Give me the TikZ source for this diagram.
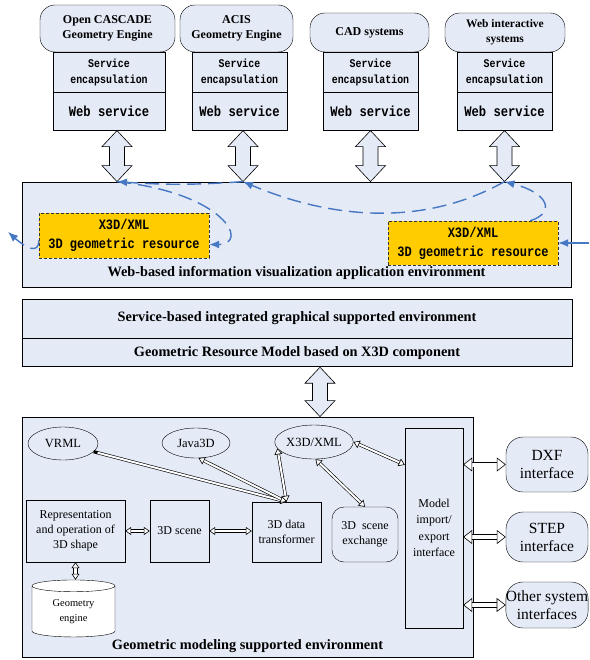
\documentclass[tikz,border=0pt]{standalone}
\usepackage{fontspec}
\setmainfont{Liberation Serif}
\setmonofont[FakeStretch=0.84]{Liberation Mono}
\usetikzlibrary{arrows.meta,calc,positioning,shapes.geometric}

\definecolor{envblue}{RGB}{228,234,246}
\definecolor{resyellow}{RGB}{255,204,0}
\definecolor{flowblue}{RGB}{70,120,196}

% hollow two-headed arrow between two layers (vertical)
\newcommand{\hollowarrow}[2]{%
  \draw[fill=envblue, line width=0.6pt] let \p1=(#1), \p2=(#2) in
    (\x1,\y1) -- (\x1+15pt,\y1-16pt) -- (\x1+7.5pt,\y1-16pt) -- (\x1+7.5pt,\y2+16pt)
    -- (\x1+15pt,\y2+16pt) -- (\x1,\y2) -- (\x1-15pt,\y2+16pt) -- (\x1-7.5pt,\y2+16pt)
    -- (\x1-7.5pt,\y1-16pt) -- (\x1-15pt,\y1-16pt) -- cycle;}

\begin{document}
\begin{tikzpicture}[
    x=1pt, y=-1pt,
    titlebox/.style={draw, fill=envblue, rounded corners=15pt, align=center, inner sep=0pt,
      font=\bfseries\fontsize{12}{15}\selectfont},
    svcbox/.style={draw, fill=envblue, align=center, inner sep=0pt,
      font=\ttfamily\bfseries\fontsize{11.8}{16}\selectfont},
    wsbox/.style={draw, fill=envblue, align=center, inner sep=0pt,
      font=\ttfamily\bfseries\fontsize{14.5}{15}\selectfont},
    envbox/.style={draw, fill=envblue, line width=0.8pt, inner sep=0pt},
    envlabel/.style={font=\bfseries\fontsize{14.3}{16}\selectfont, inner sep=0pt},
    resbox/.style={draw=black!80, densely dashed, fill=resyellow, align=center, inner sep=0pt,
      font=\ttfamily\bfseries\fontsize{14.3}{19}\selectfont},
    unitbox/.style={draw, fill=envblue, align=center, inner sep=0pt,
      font=\fontsize{12}{15}\selectfont},
    oval/.style={ellipse, draw, fill=envblue, inner sep=0pt, font=\fontsize{12.5}{15}\selectfont},
    iface/.style={draw, fill=envblue, rounded corners=17pt, align=center, inner sep=0pt,
      font=\fontsize{15.5}{18}\selectfont},
    link/.style={double, double distance=2pt, line width=0.6pt,
      {Triangle[fill=white, line width=0.6pt, length=6pt, width=8pt]}-{Triangle[fill=white, line width=0.6pt, length=6pt, width=8pt]}},
    bigl/.style={double, double distance=4pt, line width=0.6pt,
      {Triangle[fill=white, line width=0.6pt, length=9pt, width=14pt]}-{Triangle[fill=white, line width=0.6pt, length=9pt, width=14pt]}},
    flow/.style={flowblue, line width=1.4pt, dash pattern=on 14pt off 7pt, -{Latex[length=10pt, width=8pt]}},
]
\useasboundingbox (0,0) rectangle (589,660);

% Geometry engines and systems on top
\node[titlebox, minimum width=135pt, minimum height=47pt] (t1) at (107.5,28.5) {Open CASCADE\\Geometry Engine};
\node[titlebox, minimum width=113pt, minimum height=47pt] (t2) at (236.5,28.5) {ACIS\\Geometry Engine};
\node[titlebox, minimum width=119pt, minimum height=39pt] (t3) at (369.5,32.5) {CAD systems};
\node[titlebox, minimum width=120pt, minimum height=39pt, font=\bfseries\fontsize{11.5}{15}\selectfont] (t4) at (505,32.5) {Web interactive\\systems};

\node[svcbox, minimum width=112pt, minimum height=40pt] (s1) at (109,72) {Service\\encapsulation};
\node[svcbox, minimum width=95pt, minimum height=40pt] (s2) at (239.5,72) {Service\\encapsulation};
\node[svcbox, minimum width=95pt, minimum height=40pt] (s3) at (370.5,72) {Service\\encapsulation};
\node[svcbox, minimum width=95pt, minimum height=40pt] (s4) at (504.5,72) {Service\\encapsulation};

\node[wsbox, minimum width=112pt, minimum height=38pt, below=0pt of s1] (ws1) {Web service};
\node[wsbox, minimum width=95pt, minimum height=38pt, below=0pt of s2] (ws2) {Web service};
\node[wsbox, minimum width=95pt, minimum height=38pt, below=0pt of s3] (ws3) {Web service};
\node[wsbox, minimum width=95pt, minimum height=38pt, below=0pt of s4] (ws4) {Web service};

% Web-based application environment
\node[envbox, minimum width=549pt, minimum height=105pt] (webenv) at (296.5,234.5) {};
\node[envlabel, above=8pt of webenv.south] (weblabel) {Web-based information visualization application environment};
\node[resbox, minimum width=170pt, minimum height=45pt] (yel1) at (124,235.5) {X3D/XML\\3D geometric resource};
\node[resbox, minimum width=170pt, minimum height=44pt] (yel2) at (473,243) {X3D/XML\\3D geometric resource};

\coordinate (a1t) at ($(ws1.south)+(8,0)$);
\coordinate (a2t) at ($(ws2.south)+(3.5,0)$);
\coordinate (a3t) at (ws3.south);
\coordinate (a4t) at (ws4.south);
\foreach \i in {1,...,4} {
  \coordinate (a\i b) at (a\i t |- webenv.north);
  \hollowarrow{a\i t}{a\i b}
}

% flows of the geometric resource
\coordinate (y2top) at ($(yel2.north east)+(-28,0)$);
\coordinate (y1r) at ($(yel1.east)+(0,9)$);
\coordinate (y1l) at ($(yel1.west)+(0,5)$);
\coordinate (lt) at (8,232);
\coordinate (rt) at (589,243);
\draw[flow] (y2top) .. controls +(25,-8) and +(45,12) .. (a4b);
\draw[flow] (a4b) .. controls +(-80,45) and +(90,38) .. (a2b);
\draw[flow] (a2b) to[bend left=4] (a1b);
\draw[flow] (a1b) .. controls +(110,12) and +(40,0) .. (y1r);
\draw[flow] (y1l) .. controls +(0,14) and +(18,16) .. (lt);
\draw[flowblue, line width=1.4pt, -{Latex[length=10pt, width=8pt]}] (rt) -- (yel2.east);

% Supporting layers
\node[envbox, minimum width=550pt, minimum height=39pt, envlabel] (svcenv) at (297,318.5) {Service-based integrated graphical supported environment};
\node[envbox, minimum width=550pt, minimum height=28pt, envlabel, below=0pt of svcenv] (grm) {Geometric Resource Model based on X3D component};

% Geometric modeling environment
\node[envbox, minimum width=451pt, minimum height=240pt] (geoenv) at (247.5,537) {};
\node[envlabel, above=5pt of geoenv.south] (geolabel) {Geometric modeling supported environment};

\coordinate (amt) at ($(grm.south)+(23,0)$);
\coordinate (amb) at (amt |- geoenv.north);
\hollowarrow{amt}{amb}

\node[oval, minimum width=70pt, minimum height=33pt] (vrml) at (63,443.5) {VRML};
\node[oval, minimum width=68pt, minimum height=30pt] (java) at (196,443) {Java3D};
\node[oval, minimum width=76pt, minimum height=34pt] (x3d) at (314,442) {X3D/XML};

\node[unitbox, minimum width=99pt, minimum height=62pt] (rep) at (75.5,531) {Representation\\and operation of\\3D shape};
\node[unitbox, minimum width=59pt, minimum height=62pt] (scene) at (179.5,531) {3D scene};
\node[unitbox, minimum width=69pt, minimum height=60pt] (trans) at (286.5,532) {3D data\\transformer};
\node[unitbox, minimum width=66pt, minimum height=55pt, rounded corners=12pt] (exch) at (365,534.5) {3D\ \ scene\\exchange};
\node[unitbox, minimum width=58pt, minimum height=200pt, font=\fontsize{12}{16.5}\selectfont] (model) at (434,528) {Model\\import/\\export\\interface};
\node[cylinder, draw, fill=white, shape border rotate=90, aspect=0.28, align=center, inner sep=0pt,
  minimum width=83pt, minimum height=57pt, font=\fontsize{10.5}{15}\selectfont] (geo) at (73.5,611.5) {Geometry\\engine};

\node[iface, minimum width=82pt, minimum height=55pt] (dxf) at (547,464.5) {DXF\\interface};
\node[iface, minimum width=82pt, minimum height=50pt] (step) at (547,537) {STEP\\interface};
\node[iface, minimum width=82pt, minimum height=46pt] (other) at (547,605) {Other system\\interfaces};

% connectors
\draw[link, {Butt Cap}-{Triangle[fill=white, line width=0.6pt, length=6pt, width=8pt]}] (vrml.-15) -- (trans.north);
\draw[link] (java.-80) -- (trans.north);
\draw[link] (x3d.190) -- (trans.north);
\draw[link] (x3d.-85) -- (exch.north);
\draw[link] (x3d.east) -- ($(model.north west)+(0,37)$);
\draw[link] (rep.east) -- (scene.west);
\draw[link] (scene.east) -- (scene.east -| trans.west);
\draw[link, double distance=3pt] (rep.south) -- (rep.south |- geo.north);
\draw[bigl] (model.east |- dxf.west) -- (dxf.west);
\draw[bigl] (model.east |- step.west) -- (step.west);
\draw[bigl] (model.east |- other.west) -- (other.west);

\end{tikzpicture}
\end{document}
